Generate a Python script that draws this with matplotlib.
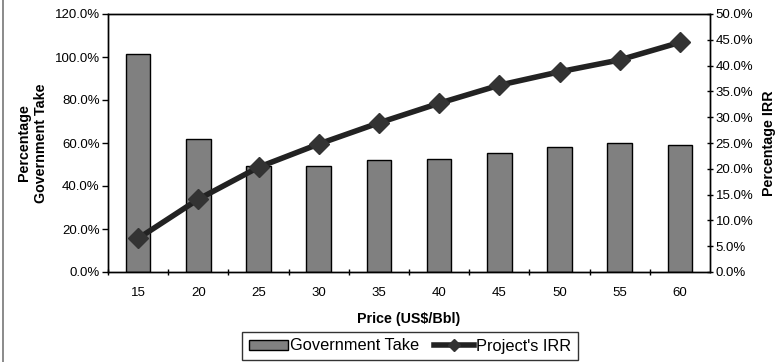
import matplotlib.pyplot as plt
from matplotlib.lines import Line2D
from matplotlib.ticker import FuncFormatter, MultipleLocator

plt.rcParams['font.family'] = ['Liberation Sans', 'DejaVu Sans']

# Oil price cases and fiscal results
prices = [15, 20, 25, 30, 35, 40, 45, 50, 55, 60]
gov_take = [101.3, 61.9, 49.4, 49.1, 52.1, 52.7, 55.5, 58.1, 59.8, 59.1]
irr = [6.5, 14.1, 20.3, 24.8, 28.9, 32.7, 36.2, 38.8, 41.1, 44.5]

fig = plt.figure(figsize=(7.78, 3.62), dpi=100)
ax = fig.add_axes([108 / 778, 1 - 272 / 362, 602 / 778, 258 / 362])
ax2 = ax.twinx()

x = list(range(len(prices)))
ax.bar(x, gov_take, width=0.41, color='#808080', edgecolor='black', linewidth=1, zorder=2)
ax2.plot(x, irr, color='#222222', linewidth=4, marker='D', markersize=10,
         markerfacecolor='#333333', markeredgecolor='#333333', zorder=3)

ax.set_xlim(-0.5, len(prices) - 0.5)
ax.set_ylim(0, 120)
ax2.set_ylim(0, 50)
ax.yaxis.set_major_locator(MultipleLocator(20))
ax2.yaxis.set_major_locator(MultipleLocator(5))
pct = FuncFormatter(lambda v, _: f'{v:.1f}%')
ax.yaxis.set_major_formatter(pct)
ax2.yaxis.set_major_formatter(pct)

ax.set_xticks(x)
ax.set_xticklabels([str(p) for p in prices])
# category separators on the x axis
ax.set_xticks([i + 0.5 for i in x[:-1]] + [-0.5], minor=True)
ax.tick_params(axis='x', which='major', length=0, pad=11, labelsize=9.5)
ax.tick_params(axis='x', which='minor', length=4, direction='inout', width=1)
ax.tick_params(axis='y', length=4, direction='out', width=1, labelsize=9.5, pad=2)
ax2.tick_params(axis='y', length=4, direction='inout', width=1, labelsize=9.5, pad=2)

for a in (ax, ax2):
    for s in a.spines.values():
        s.set_linewidth(1)

ax.set_xlabel('Price (US$/Bbl)', fontsize=10.3, fontweight='bold', labelpad=9)
ax.set_ylabel('Percentage\nGovernment Take', fontsize=10.3, fontweight='bold', labelpad=5,
              linespacing=1.25)
ax2.set_ylabel('Percentage IRR', fontsize=10.3, fontweight='bold', labelpad=6)

handles = [
    plt.Rectangle((0, 0), 1, 1, facecolor='#808080', edgecolor='black', linewidth=1),
    Line2D([], [], color='#222222', linewidth=4, marker='D', markersize=6,
           markerfacecolor='#333333', markeredgecolor='#333333'),
]
leg = fig.legend(handles, ['Government Take', "Project's IRR"], loc='center',
                 bbox_to_anchor=(410 / 778, 1 - 346 / 362), ncol=2, frameon=True,
                 fancybox=False, edgecolor='black', fontsize=11.8, handlelength=2.4,
                 handleheight=0.6, handletextpad=0.15, columnspacing=0.9,
                 borderpad=0.4, borderaxespad=0)
leg.get_frame().set_linewidth(1)

# thin border on the left edge of the figure
fig.add_artist(Line2D([3 / 778, 3 / 778], [0, 1], color='#777777', linewidth=1.2))

fig.savefig('out.png', dpi=100)
